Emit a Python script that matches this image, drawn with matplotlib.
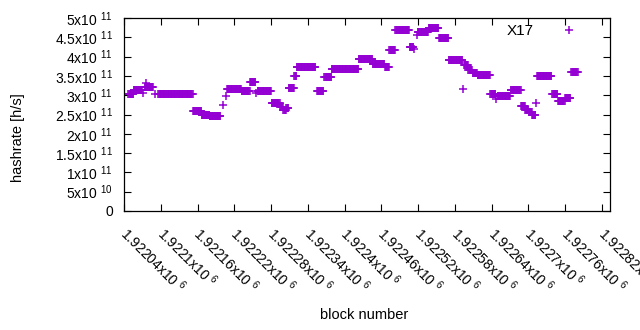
import numpy as np
import matplotlib
matplotlib.use("Agg")
import matplotlib.pyplot as plt
from matplotlib.transforms import ScaledTranslation

# block ranges, one value (h/s) per range
seg_first = [1922047, 1922056, 1922071, 1922076, 1922074, 1922091, 1922096, 1922153,
             1922167, 1922180, 1922202, 1922207, 1922208, 1922232, 1922246, 1922255,
             1922258, 1922281, 1922295, 1922300, 1922305, 1922309, 1922318, 1922322,
             1922355, 1922367, 1922379, 1922423, 1922446, 1922466, 1922473, 1922483,
             1922506, 1922513, 1922518, 1922519, 1922537, 1922554, 1922570, 1922593,
             1922595, 1922602, 1922609, 1922617, 1922638, 1922647, 1922650, 1922671,
             1922688, 1922695, 1922701, 1922706, 1922713, 1922714, 1922739, 1922748,
             1922760, 1922770]
seg_last = [1922055, 1922069, 1922071, 1922076, 1922087, 1922091, 1922152, 1922166,
            1922179, 1922197, 1922202, 1922207, 1922231, 1922245, 1922254, 1922255,
            1922280, 1922294, 1922299, 1922304, 1922308, 1922317, 1922321, 1922352,
            1922365, 1922378, 1922422, 1922445, 1922465, 1922472, 1922482, 1922505,
            1922512, 1922513, 1922518, 1922536, 1922553, 1922569, 1922592, 1922593,
            1922601, 1922608, 1922616, 1922637, 1922646, 1922647, 1922670, 1922687,
            1922694, 1922700, 1922705, 1922711, 1922713, 1922737, 1922747, 1922759,
            1922768, 1922780]
seg_value = [3.03e11, 3.13e11, 3.06e11, 3.32e11, 3.21e11, 3.03e11, 3.04e11, 2.60e11,
             2.49e11, 2.45e11, 2.75e11, 2.98e11, 3.17e11, 3.12e11, 3.33e11, 3.06e11,
             3.12e11, 2.81e11, 2.70e11, 2.62e11, 2.66e11, 3.19e11, 3.50e11, 3.72e11,
             3.11e11, 3.47e11, 3.69e11, 3.94e11, 3.82e11, 3.74e11, 4.17e11, 4.70e11,
             4.26e11, 4.20e11, 4.56e11, 4.65e11, 4.73e11, 4.47e11, 3.91e11, 3.16e11,
             3.78e11, 3.65e11, 3.58e11, 3.52e11, 3.04e11, 2.90e11, 2.98e11, 3.13e11,
             2.73e11, 2.62e11, 2.56e11, 2.49e11, 2.80e11, 3.50e11, 3.02e11, 2.84e11,
             2.92e11, 3.60e11]

xticks = np.arange(1922040, 1922821, 60)
yticks = np.arange(0, 5.01e11, 0.5e11)

blocks = []
rates = []
for a, b, v in zip(seg_first, seg_last, seg_value):
    for n in range(a, b + 1):
        blocks.append(n)
        rates.append(v)

plt.rcParams['font.family'] = ['Liberation Sans', 'DejaVu Sans']
plt.rcParams['mathtext.fontset'] = 'custom'
plt.rcParams['mathtext.rm'] = 'Liberation Sans'
plt.rcParams['font.size'] = 10


def ylab(v):
    if v == 0:
        return '0'
    e = int(np.floor(np.log10(v)))
    m = v / 10**e
    return ('%g' % m) + 'x10 $^{%d}$' % e


def xlab(v):
    m = v / 1e6
    ms = ('%.6f' % m).rstrip('0').rstrip('.')
    return ms + 'x10 $^{6}$'


fig = plt.figure(figsize=(6.4, 3.3), dpi=100)
ax = fig.add_axes([124/640, 1 - 211/330, (610-124)/640, (211-18)/330])
ax.plot(blocks, rates, '+', color='#9400D3', markersize=6, markeredgewidth=1.1,
        label='X17')
ax.set_xlim(1922040, 1922833)
ax.set_ylim(0, 5e11)
ax.set_xticks(xticks)
ax.set_yticks(yticks)
ax.set_yticklabels([ylab(v) for v in yticks])
ax.set_xticklabels([xlab(v) for v in xticks], rotation=-45, ha='left', va='top',
                   rotation_mode='anchor')
ax.tick_params(direction='in', top=True, right=True, length=5, width=0.8)
ax.tick_params(axis='y', pad=8)
ax.tick_params(axis='x', pad=8)
off = ScaledTranslation(6/100, -2/100, fig.dpi_scale_trans)
for lab in ax.get_xticklabels():
    lab.set_transform(lab.get_transform() + off)
for s in ax.spines.values():
    s.set_linewidth(0.9)
ax.set_xlabel('block number', fontsize=10.5, va='center')
ax.xaxis.set_label_coords(0.494, -0.539)
ax.set_ylabel('hashrate [h/s]', fontsize=10.5, va='center')
ax.yaxis.set_label_coords(-0.218, 0.378)
leg = ax.legend(loc='upper right', frameon=False, markerfirst=False, handlelength=4.6,
                borderaxespad=0.2, borderpad=0.2, handletextpad=0.0, fontsize=11)
fig.savefig('out.png', dpi=100)
